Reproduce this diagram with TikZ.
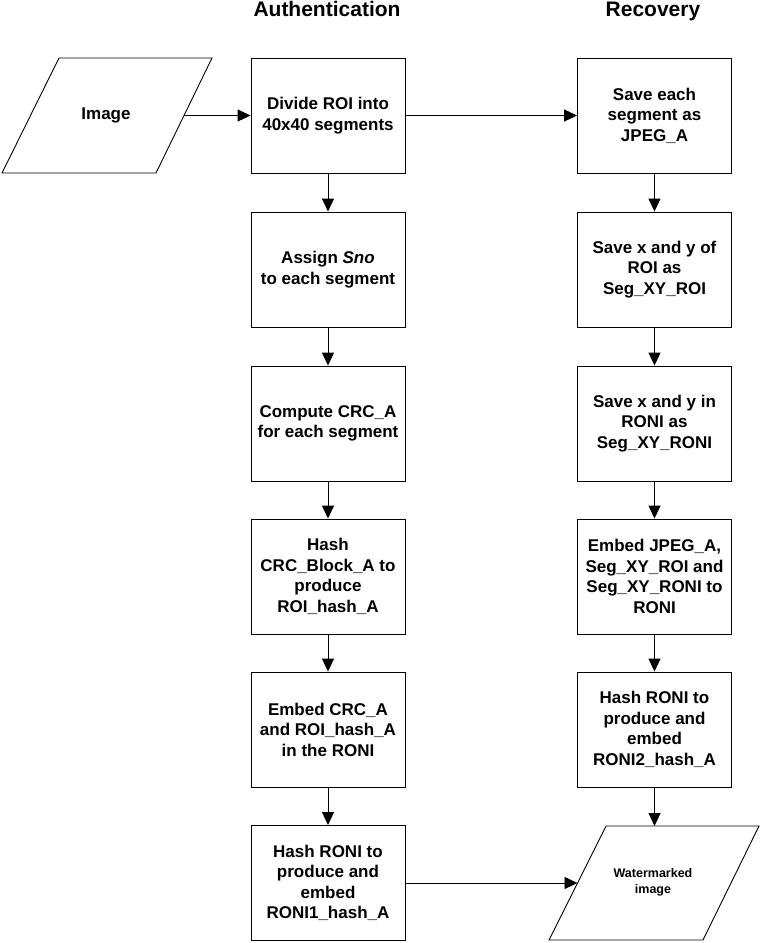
\documentclass[tikz,border=0pt]{standalone}
\usepackage{fontspec}
\setmainfont{Liberation Sans}
\usetikzlibrary{arrows.meta}
\tikzset{
  box/.style={draw, line width=0.9pt, minimum width=154pt, minimum height=115pt, inner sep=0pt, align=center, font=\bfseries\fontsize{17}{20.5}\selectfont},
  head/.style={anchor=base, font=\bfseries\fontsize{21}{25}\selectfont},
  para/.style={draw, line width=0.9pt, line join=miter},
  conn/.style={line width=0.9pt, -{Triangle[length=13pt,width=12pt]}},
  ptext/.style={align=center, inner sep=0pt},
}
\begin{document}
\begin{tikzpicture}[x=1pt,y=-1pt]
\useasboundingbox (0,0) rectangle (761,943);
% headers
\node[head] (hA) at (327,16) {Authentication};
\node[head] (hR) at (653,16) {Recovery};
% Image parallelogram
\draw[para] (59,58) -- (212,58) -- (156,173) -- (2,173) -- cycle;
\node[ptext, font=\bfseries\fontsize{17}{20.5}\selectfont] (img) at (106,115.5) {Image};
\coordinate (imgR) at (184,115.5);
% left column
\node[box] (b1) at (328,115.5) {Divide ROI into\\40x40 segments};
\node[box] (b2) at (328,269.5) {Assign \textit{Sno}\\to each segment};
\node[box] (b3) at (328,423.5) {Compute CRC\_A\\for each segment};
\node[box] (b4) at (328,576.5) {Hash\\CRC\_Block\_A to\\produce\\ROI\_hash\_A};
\node[box] (b5) at (328,729.5) {Embed CRC\_A\\and ROI\_hash\_A\\in the RONI};
\node[box] (b6) at (328,883) {Hash RONI to\\produce and\\embed\\RONI1\_hash\_A};
% right column
\node[box] (r1) at (654.5,115.5) {Save each\\segment as\\JPEG\_A};
\node[box] (r2) at (654.5,269.5) {Save x and y of\\ROI as\\Seg\_XY\_ROI};
\node[box] (r3) at (654.5,423.5) {Save x and y in\\RONI as\\Seg\_XY\_RONI};
\node[box] (r4) at (654.5,576.5) {Embed JPEG\_A,\\Seg\_XY\_ROI and\\Seg\_XY\_RONI to\\RONI};
\node[box] (r5) at (654.5,729.5) {Hash RONI to\\produce and\\embed\\RONI2\_hash\_A};
% Watermarked image parallelogram
\draw[para] (606,826) -- (759,826) -- (703,940) -- (549,940) -- cycle;
\node[ptext, font=\bfseries\fontsize{12.5}{16}\selectfont] (wm) at (653,882) {Watermarked\\image};
\coordinate (wmL) at (577.5,883);
\coordinate (wmT) at (654.5,826);
% connectors
\draw[conn] (imgR) -- (b1.west);
\draw[conn] (b1) -- (b2);
\draw[conn] (b2) -- (b3);
\draw[conn] (b3) -- (b4);
\draw[conn] (b4) -- (b5);
\draw[conn] (b5) -- (b6);
\draw[conn] (b1.east) -- (r1.west);
\draw[conn] (r1) -- (r2);
\draw[conn] (r2) -- (r3);
\draw[conn] (r3) -- (r4);
\draw[conn] (r4) -- (r5);
\draw[conn] (r5.south) -- (wmT);
\draw[conn] (b6.east) -- (wmL);
\end{tikzpicture}
\end{document}
